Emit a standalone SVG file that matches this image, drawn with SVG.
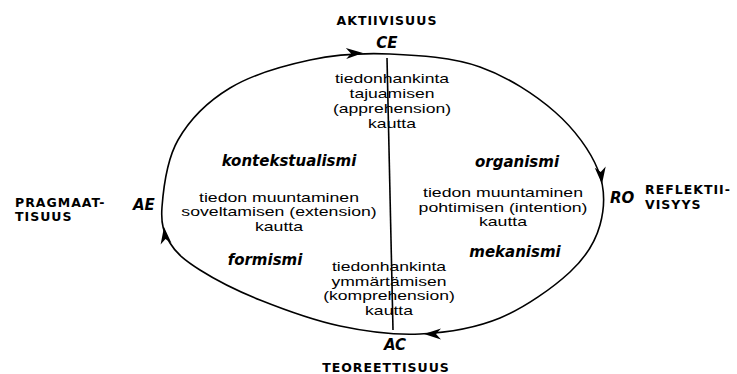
<svg xmlns="http://www.w3.org/2000/svg" width="737" height="374" viewBox="0 0 737 374">
<style>
text{font-family:"DejaVu Sans","Liberation Sans",sans-serif;fill:#000}
.cap{font-size:12.5px;font-weight:bold;letter-spacing:1px}
.pole{font-size:15px;font-weight:bold;font-style:italic}
.ism{font-size:15px;font-weight:bold;font-style:italic;text-anchor:middle}
.blk text{font-family:"Liberation Sans",Arial,sans-serif;font-size:13px;text-anchor:middle}
.mid{text-anchor:middle}
.ln{fill:none;stroke:#000;stroke-width:1.6}
</style>
<defs>
<path id="ah" d="M0,0 L-17,-5.5 L-12,0 L-17,5.5 Z" fill="#000"/>
</defs>
<rect width="737" height="374" fill="#fff"/>
<g id="connectors">
<path class="ln" d="M162,207 C163.3,189.8 166.7,159.8 178,140 C189.3,120.2 208,101.3 230,88 C252,74.7 283.3,65.7 310,60 C336.7,54.3 361.7,52.8 390,54 C418.3,55.2 452.5,57.3 480,67 C507.5,76.7 535.3,94.8 555,112 C574.7,129.2 590.5,151.2 598,170 C605.5,188.8 604.7,208 600,225 C595.3,242 586.7,256.5 570,272 C553.3,287.5 525,307.7 500,318 C475,328.3 446.7,332.7 420,334 C393.3,335.3 366.7,331.7 340,326 C313.3,320.3 283.3,309.3 260,300 C236.7,290.7 215,279.5 200,270 C185,260.5 176.3,253.5 170,243 C163.7,232.5 160.7,224.2 162,207 Z"/>
<use href="#ah" transform="translate(363,53) rotate(-2)"/>
<use href="#ah" transform="translate(602,184) rotate(84)"/>
<use href="#ah" transform="translate(424,334) rotate(180)"/>
<use href="#ah" transform="translate(164,227) rotate(-97)"/>
<line class="ln" x1="387" y1="58" x2="393" y2="330" stroke-width="1.3"/>
</g>
<g id="node-ce">
<text class="cap mid" x="387" y="25">AKTIIVISUUS</text>
<text class="pole mid" x="387" y="48">CE</text>
</g>
<g id="node-ro">
<text class="pole" x="610" y="203">RO</text>
<text class="cap" x="645" y="194">REFLEKTII-</text>
<text class="cap" x="645" y="208.5">VISYYS</text>
</g>
<g id="node-ac">
<text class="pole mid" x="395" y="350">AC</text>
<text class="cap mid" x="386" y="372">TEOREETTISUUS</text>
</g>
<g id="node-ae">
<text class="pole" x="133" y="210">AE</text>
<text class="cap" x="15" y="206.5">PRAGMAAT-</text>
<text class="cap" x="15" y="221">TISUUS</text>
</g>
<g id="node-top">
<g class="blk" transform="translate(392,0) scale(1.35,1)">
<text x="0" y="83">tiedonhankinta</text>
<text x="0" y="98">tajuamisen</text>
<text x="0" y="113">(apprehension)</text>
<text x="0" y="128">kautta</text>
</g>
</g>
<g id="node-left">
<text class="ism" x="289" y="166">kontekstualismi</text>
<g class="blk" transform="translate(279,0) scale(1.36,1)">
<text x="0" y="202">tiedon muuntaminen</text>
<text x="0" y="216.5">soveltamisen (extension)</text>
<text x="0" y="231">kautta</text>
</g>
<text class="ism" x="265" y="265">formismi</text>
</g>
<g id="node-right">
<text class="ism" x="517" y="167">organismi</text>
<g class="blk" transform="translate(503,0) scale(1.36,1)">
<text x="0" y="197.5">tiedon muuntaminen</text>
<text x="0" y="212">pohtimisen (intention)</text>
<text x="0" y="226.5">kautta</text>
</g>
<text class="ism" x="515" y="257">mekanismi</text>
</g>
<g id="node-bottom">
<g class="blk" transform="translate(389,0) scale(1.35,1)">
<text x="0" y="271.5">tiedonhankinta</text>
<text x="0" y="286">ymmärtämisen</text>
<text x="0" y="300.5">(komprehension)</text>
<text x="0" y="315">kautta</text>
</g>
</g>
</svg>
